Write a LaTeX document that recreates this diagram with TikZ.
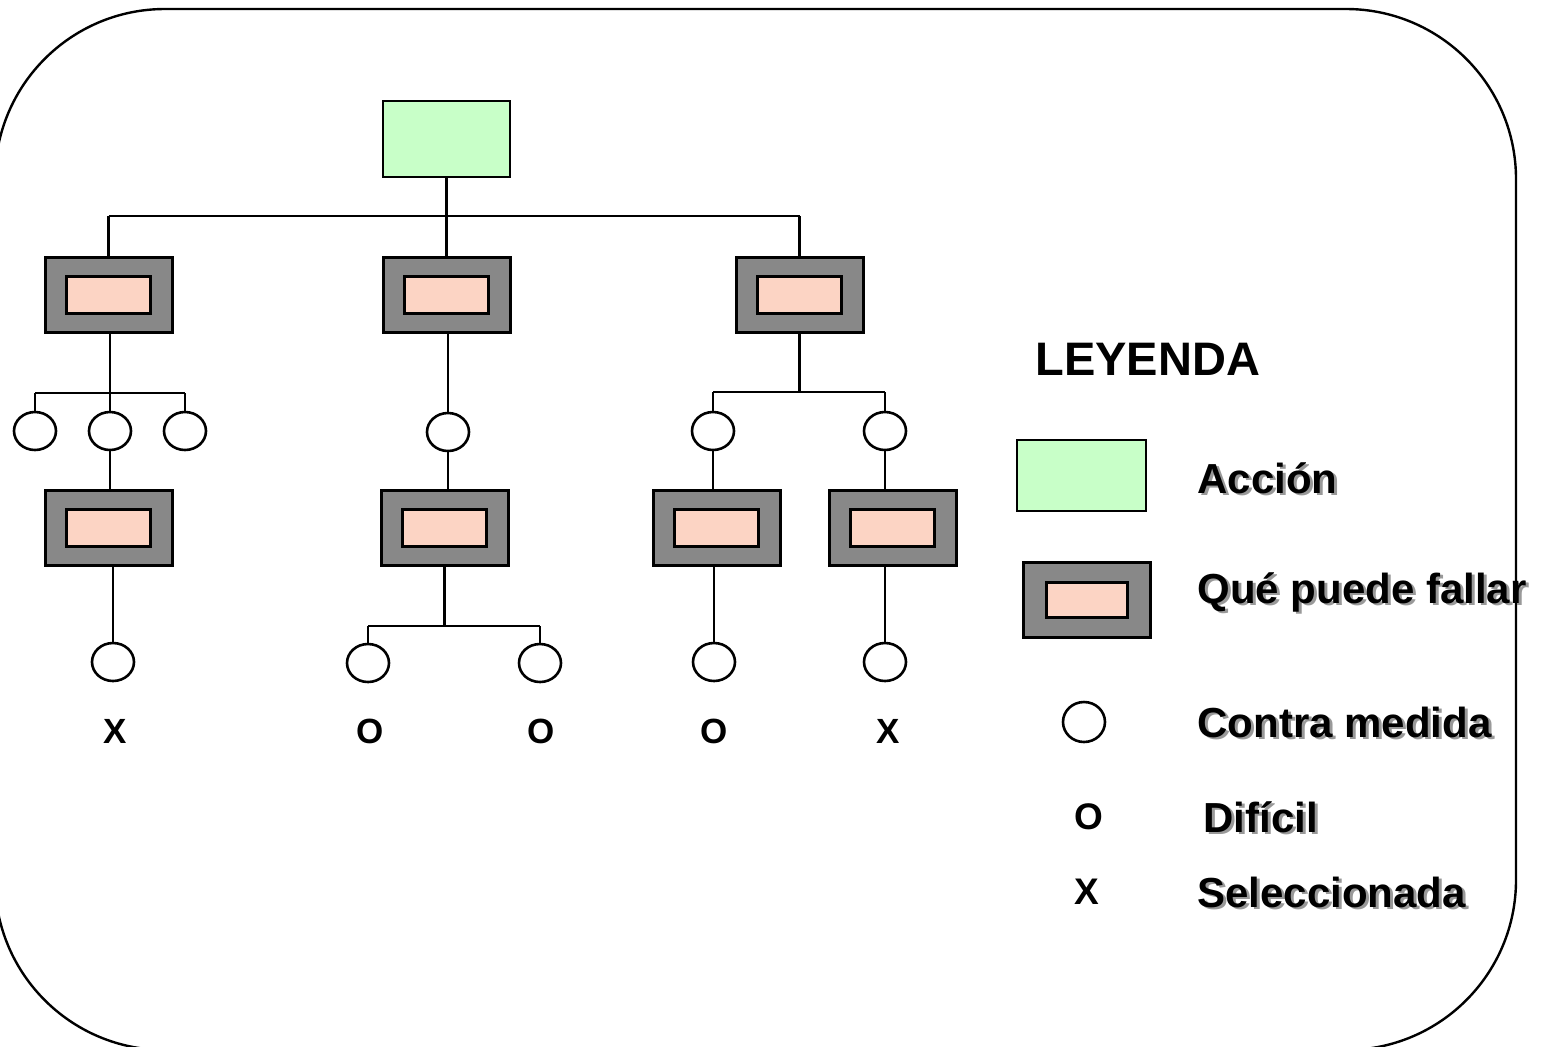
\documentclass[tikz,border=0pt]{standalone}
\usepackage{fontspec}
\setmainfont{Liberation Sans}
\usetikzlibrary{shapes.geometric}
\definecolor{actgreen}{RGB}{200,255,200}
\definecolor{failpink}{RGB}{252,212,196}
\definecolor{failgray}{RGB}{136,136,136}
\begin{document}
\begin{tikzpicture}[x=0.5pt,y=-0.5pt,
  wire/.style={line width=1.4pt},
  actbox/.style={rectangle,draw,line width=1.3pt,fill=actgreen,minimum width=63.5pt,minimum height=38pt,inner sep=0pt},
  failbox/.style={rectangle,draw,line width=1.5pt,fill=failgray,minimum width=63.5pt,minimum height=37.5pt,inner sep=0pt},
  failcore/.style={rectangle,draw,line width=1.5pt,fill=failpink,minimum width=42pt,minimum height=18.5pt,inner sep=0pt},
  cmnode/.style={ellipse,draw,line width=1.3pt,fill=white,minimum width=21pt,minimum height=19pt,inner sep=0pt},
  ratemark/.style={font=\fontsize{17.5}{20}\selectfont\bfseries,inner sep=0pt},
  legmark/.style={font=\fontsize{18.5}{22}\selectfont\bfseries,inner sep=0pt},
  legtxt/.style={font=\fontsize{21}{25}\selectfont\bfseries,inner sep=0pt,anchor=base west},
  legshadow/.style={legtxt,text=black!40},
  legtitle/.style={font=\fontsize{23.5}{28}\selectfont\bfseries,inner sep=0pt,anchor=base west}
]
\useasboundingbox (0,0) rectangle (1544,1046);
\clip (0,0) rectangle (1544,1046);

% outer frame
\draw[line width=1.2pt,rounded corners=85pt] (-5,9) rectangle (1516,1050);

% action
\node[actbox] (a) at (446.5,139) {};

% first level: what can fail
\node[failbox] (f1) at (108.5,294.5) {};
\node[failcore] (f1i) at (f1) {};
\node[failbox] (f2) at (446.5,294.5) {};
\node[failcore] (f2i) at (f2) {};
\node[failbox] (f3) at (799.5,294.5) {};
\node[failcore] (f3i) at (f3) {};

% countermeasures, first row
\node[cmnode] (c1) at (35,431) {};
\node[cmnode] (c2) at (110,431) {};
\node[cmnode] (c3) at (185,431) {};
\node[cmnode] (c4) at (448,432) {};
\node[cmnode] (c5) at (713,431) {};
\node[cmnode] (c6) at (885,431) {};

% second level: what can fail
\node[failbox] (g1) at (108.5,527.5) {};
\node[failcore] (g1i) at (g1) {};
\node[failbox] (g2) at (444.5,527.5) {};
\node[failcore] (g2i) at (g2) {};
\node[failbox] (g3) at (716.5,527.5) {};
\node[failcore] (g3i) at (g3) {};
\node[failbox] (g4) at (892.5,527.5) {};
\node[failcore] (g4i) at (g4) {};

% countermeasures, second row
\node[cmnode] (d1) at (113,662) {};
\node[cmnode] (d2) at (368,663) {};
\node[cmnode] (d3) at (540,663) {};
\node[cmnode] (d4) at (714,662) {};
\node[cmnode] (d5) at (885,662) {};

% rating marks
\node[ratemark] (m1) at (115,731) {X};
\node[ratemark] (m2) at (370,731) {O};
\node[ratemark] (m3) at (541,731) {O};
\node[ratemark] (m4) at (714,731) {O};
\node[ratemark] (m5) at (888,731) {X};

% bus under the action
\coordinate (bus) at (0,216);
\coordinate (barL) at (0,393);
\coordinate (barR) at (0,392);
\coordinate (barM) at (0,626);
\draw[wire] (a.south) -- (a.south |- bus);
\draw[wire] (f1.north |- bus) -- (f3.north |- bus);
\draw[wire] (f1.north |- bus) -- (f1.north);
\draw[wire] (f2.north |- bus) -- (f2.north);
\draw[wire] (f3.north |- bus) -- (f3.north);

% left branch
\draw[wire] (c2.north |- f1.south) -- (c2.north);
\draw[wire] (c1.north |- barL) -- (c3.north |- barL);
\draw[wire] (c1.north |- barL) -- (c1.north);
\draw[wire] (c3.north |- barL) -- (c3.north);
\draw[wire] (c2.south) -- (c2.south |- g1.north);
\draw[wire] (d1.north |- g1.south) -- (d1.north);

% middle branch
\draw[wire] (c4.north |- f2.south) -- (c4.north);
\draw[wire] (c4.south) -- (c4.south |- g2.north);
\draw[wire] (g2.south) -- (g2.south |- barM);
\draw[wire] (d2.north |- barM) -- (d3.north |- barM);
\draw[wire] (d2.north |- barM) -- (d2.north);
\draw[wire] (d3.north |- barM) -- (d3.north);

% right branch
\draw[wire] (f3.south) -- (f3.south |- barR);
\draw[wire] (c5.north |- barR) -- (c6.north |- barR);
\draw[wire] (c5.north |- barR) -- (c5.north);
\draw[wire] (c6.north |- barR) -- (c6.north);
\draw[wire] (c5.south) -- (c5.south |- g3.north);
\draw[wire] (c6.south) -- (c6.south |- g4.north);
\draw[wire] (d4.north |- g3.south) -- (d4.north);
\draw[wire] (d5.north |- g4.south) -- (d5.north);

% legend
\node[legtitle] (ltitle) at (1035,375) {LEYENDA};
\node[actbox,minimum width=64.5pt,minimum height=35.5pt] (la) at (1081.5,475.5) {};
\node[failbox] (lf) at (1086.5,599.5) {};
\node[failcore,minimum width=40.5pt,minimum height=17.5pt] (lfi) at (lf) {};
\node[cmnode,minimum width=21pt,minimum height=20pt] (lc) at (1084,722) {};
\node[legmark] (lo) at (1089,817) {O};
\node[legmark] (lx) at (1087,892) {X};

\node[legshadow] (tAccionS) at (1200,495.5) {Acción};
\node[legtxt] (tAccion) at (1197,493) {Acción};
\node[legshadow] (tFallarS) at (1200,605.5) {Qué puede fallar};
\node[legtxt] (tFallar) at (1197,603) {Qué puede fallar};
\node[legshadow] (tMedidaS) at (1200,739.5) {Contra medida};
\node[legtxt] (tMedida) at (1197,737) {Contra medida};
\node[legshadow] (tDificilS) at (1206,834.5) {Difícil};
\node[legtxt] (tDificil) at (1203,832) {Difícil};
\node[legshadow] (tSelS) at (1200,909.5) {Seleccionada};
\node[legtxt] (tSel) at (1197,907) {Seleccionada};

% frame edge passing over the legend text
\draw[line width=1.2pt] (1516,200) -- (1516,880);
\end{tikzpicture}
\end{document}
